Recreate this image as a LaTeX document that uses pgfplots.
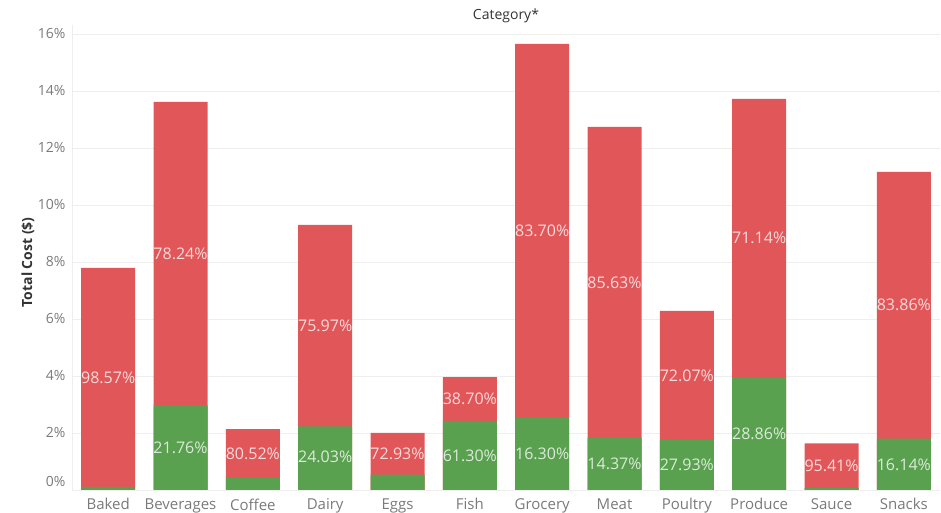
\documentclass[border=0pt]{standalone}
\usepackage{fontspec}
\setmainfont{Open Sans}
\usepackage{pgfplots}
\usepackage{pgfplotstable}
\pgfplotsset{compat=1.18}
\definecolor{tred}{HTML}{E15759}
\definecolor{tgreen}{HTML}{59A14F}
\definecolor{ticktext}{HTML}{7A7A7A}
\definecolor{gridc}{HTML}{EEEEEE}
\definecolor{titlec}{HTML}{333333}

\pgfplotstableread{
x total green
0 7.79 0.111
1 13.62 2.964
2 2.14 0.417
3 9.30 2.235
4 2.00 0.541
5 3.96 2.427
6 15.65 2.551
7 12.74 1.831
8 6.28 1.754
9 13.72 3.960
10 1.64 0.075
11 11.16 1.801
}\costdata

\pgfplotstableread{
x y lab
0 3.950 98.57\%
1 8.292 78.24\%
2 1.279 80.52\%
3 5.768 75.97\%
4 1.271 72.93\%
5 3.194 38.70\%
6 9.101 83.70\%
7 7.286 85.63\%
8 4.017 72.07\%
9 8.840 71.14\%
10 0.858 95.41\%
11 6.481 83.86\%
}\redlabels

\pgfplotstableread{
x y lab
1 1.482 21.76\%
3 1.150 24.03\%
5 1.214 61.30\%
6 1.276 16.30\%
7 0.916 14.37\%
8 0.877 27.93\%
9 1.980 28.86\%
11 0.900 16.14\%
}\greenlabels

\begin{document}
\begin{tikzpicture}
\begin{axis}[
  name=ax,
  scale only axis,
  width=868pt, height=464.6pt,
  xmin=-0.5, xmax=11.5,
  ymin=0, ymax=16.3,
  axis x line*=bottom,
  x axis line style={draw=none},
  axis y line*=left,
  y axis line style={draw=gridc},
  xtick={0,...,11},
  xticklabels={Baked,Beverages,Coffee,Dairy,Eggs,Fish,Grocery,Meat,Poultry,Produce,Sauce,Snacks},
  ytick={2,4,...,16},
  yticklabel={\pgfmathprintnumber{\tick}\%},
  extra y ticks={0},
  extra y tick labels={0\%},
  extra y tick style={yticklabel style={yshift=9pt}, grid=major},
  /pgf/number format/assume math mode=true,
  major tick length=0pt,
  tick style={draw=none},
  ymajorgrids,
  grid style={draw=gridc, line width=0.6pt},
  tick label style={font=\fontsize{14}{16}\selectfont, text=ticktext},
  xticklabel style={yshift=-5pt, font=\fontsize{15}{17}\selectfont},
  yticklabel style={xshift=-3pt},
  title={Category*},
  title style={at={(axis description cs:0.5,1.027)}, anchor=center, yshift=-9pt, font=\fontsize{14}{16}\selectfont, text=titlec},
  ylabel={Total Cost (\$)},
  every axis y label/.style={at={(axis description cs:-0.0507,0.49)}, rotate=90, anchor=center, font=\fontsize{14}{16}\selectfont\bfseries, text=titlec},
  clip=false,
]
\addplot[ybar, bar width=54pt, bar shift=0pt, fill=tred, draw=none] table[x=x, y=total] {\costdata};
\addplot[ybar, bar width=54pt, bar shift=0pt, fill=tgreen, draw=none] table[x=x, y=green] {\costdata};
\addplot[draw=none, nodes near coords, point meta=explicit symbolic,
  every node near coord/.style={anchor=center, text=white, text opacity=0.78, font=\fontsize{16}{18}\selectfont, inner sep=0pt}]
  table[x=x, y=y, meta=lab] {\redlabels};
\addplot[draw=none, nodes near coords, point meta=explicit symbolic,
  every node near coord/.style={anchor=center, text=white, text opacity=0.78, font=\fontsize{16}{18}\selectfont, inner sep=0pt}]
  table[x=x, y=y, meta=lab] {\greenlabels};
\end{axis}
\pgfresetboundingbox
\path[use as bounding box] ([xshift=-72pt,yshift=-23pt]ax.south west) rectangle ([xshift=1pt,yshift=25.4pt]ax.north east);
\end{tikzpicture}
\end{document}
